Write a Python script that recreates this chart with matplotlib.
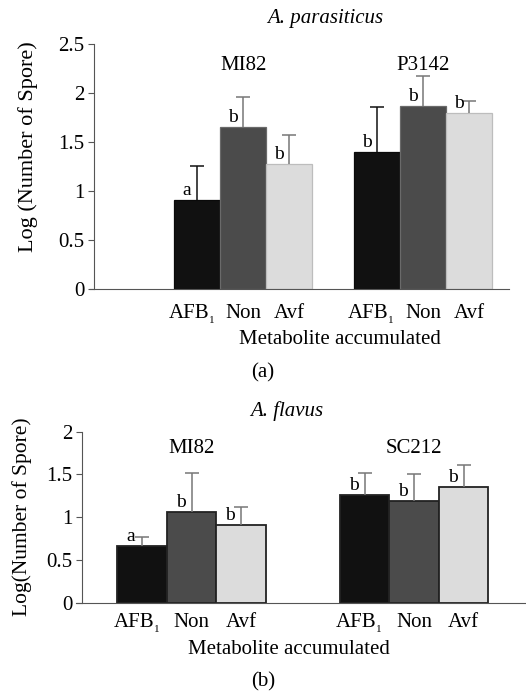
import numpy as np
import matplotlib
matplotlib.use("Agg")
import matplotlib.pyplot as plt
from matplotlib.transforms import offset_copy

plt.rcParams['font.family'] = ['Liberation Serif', 'DejaVu Serif']

## data
metabolites = ["AFB", "Non", "Avf"]
metabolite_sub = ["1", "", ""]
colors = ["#111111", "#4b4b4b", "#dcdcdc"]

para_strains = ["MI82", "P3142"]
para_mean = [[0.91, 1.656, 1.273], [1.401, 1.87, 1.80]]
para_err = [[0.346, 0.302, 0.295], [0.455, 0.305, 0.114]]
para_sig = [["a", "b", "b"], ["b", "b", "b"]]

flav_strains = ["MI82", "SC212"]
flav_mean = [[0.665, 1.057, 0.908], [1.26, 1.186, 1.354]]
flav_err = [[0.10, 0.463, 0.217], [0.26, 0.314, 0.256]]
flav_sig = [["a", "b", "b"], ["b", "b", "b"]]

W, H = 526, 691
FS = 15
fig = plt.figure(figsize=(W / 100, H / 100), dpi=100)


def px(x, y):
    return x / W, 1 - y / H


def panel(rect, xlim, starts, means, errs, sigs, strains, ylim, yticks,
          edges, edge_lw, err_colors, strain_y, label_drop):
    x0, y_top, x1, y_bot = rect
    ax = fig.add_axes([x0 / W, 1 - y_bot / H, (x1 - x0) / W, (y_bot - y_top) / H])
    ax.set_xlim(*xlim)
    ax.set_ylim(*ylim)
    for s in ["top", "right"]:
        ax.spines[s].set_visible(False)
    ax.spines["left"].set_position(("data", 0))
    base = ax.get_xaxis_transform()
    for g, start in enumerate(starts):
        xs = start + np.arange(3) + 0.5
        ax.bar(xs, means[g], width=1.0, color=colors, edgecolor=edges,
               linewidth=edge_lw, zorder=2)
        for i in range(3):
            top = means[g][i] + errs[g][i]
            ec = err_colors[g * 3 + i]
            ax.vlines(xs[i], means[g][i], top, color=ec, lw=1.1, zorder=3)
            ax.plot([xs[i]], [top], marker="_", ms=10, mew=1.1, color=ec, zorder=3)
            ax.text(xs[i] - 0.22, means[g][i] + 0.01, sigs[g][i], ha="center",
                    va="bottom", fontsize=14, zorder=4)
            if metabolite_sub[i]:
                ax.text(xs[i], 0, metabolites[i], ha="right", va="baseline", fontsize=FS,
                        transform=offset_copy(base, fig=fig, x=12, y=-label_drop, units="dots"))
                ax.text(xs[i], 0, metabolite_sub[i], ha="left", va="baseline", fontsize=8,
                        transform=offset_copy(base, fig=fig, x=11.5, y=-label_drop - 5, units="dots"))
            else:
                ax.text(xs[i], 0, metabolites[i], ha="center", va="baseline", fontsize=FS,
                        transform=offset_copy(base, fig=fig, y=-label_drop, units="dots"))
        ax.text(start + 1.5, strain_y, strains[g], ha="center", va="center",
                fontsize=FS)
    ax.set_xticks([])
    ax.set_yticks(yticks)
    ax.set_yticklabels([("%g" % t) for t in yticks])
    ax.spines["left"].set_color("#555555")
    ax.spines["bottom"].set_color("#555555")
    ax.tick_params(axis="y", direction="out", length=4, color="#555555", pad=3,
                   labelsize=FS)
    return ax


## (a) A. parasiticus
panel((90, 44, 509, 289.3), (-4 / 46, 415 / 46), [1.745, 5.65],
      para_mean, para_err, para_sig, para_strains, (0, 2.5),
      [0, 0.5, 1, 1.5, 2, 2.5], ["#0a0a0a", "#6a6a6a", "#bdbdbd"], 0.9,
      ["#111111", "#777777", "#777777", "#111111", "#777777", "#777777"], 2.28, 29)
fig.text(*px(325, 18), "A. parasiticus", style="italic", fontsize=FS,
         ha="center", va="center")
fig.text(*px(28, 147), "Log (Number of Spore)", rotation=90, fontsize=16,
         ha="center", va="center")
fig.text(*px(340, 340), "Metabolite accumulated", fontsize=FS,
         ha="center", va="center")
fig.text(*px(263, 373), "(a)", fontsize=FS, ha="center", va="center")

## (b) A. flavus
panel((76, 431.7, 526, 602.7), (-6 / 49.5, 444 / 49.5), [0.713, 5.21],
      flav_mean, flav_err, flav_sig, flav_strains, (0, 2),
      [0, 0.5, 1, 1.5, 2], "#222222", 1.3,
      ["#777777"] * 6, 1.8, 24)
fig.text(*px(287, 411), "A. flavus", style="italic", fontsize=FS,
         ha="center", va="center")
fig.text(*px(22, 517), "Log(Number of Spore)", rotation=90, fontsize=15.5,
         ha="center", va="center")
fig.text(*px(289, 650), "Metabolite accumulated", fontsize=FS,
         ha="center", va="center")
fig.text(*px(263, 682), "(b)", fontsize=FS, ha="center", va="center")

plt.savefig("out.png", dpi=100)
